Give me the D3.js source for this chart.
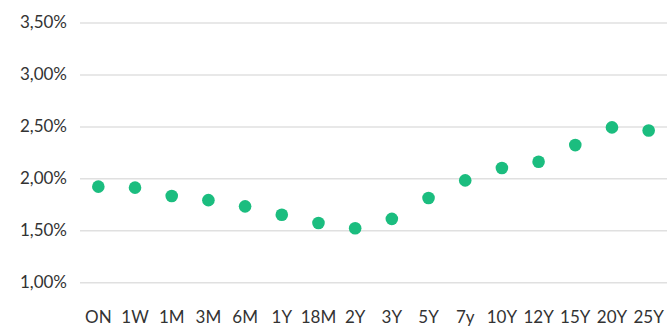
<!DOCTYPE html>
<html><head><meta charset="utf-8">
<script src="https://cdn.jsdelivr.net/npm/d3@7"></script>
<style>body{margin:0;background:#fff;}svg{display:block;}</style>
</head><body><div id="c"></div>
<script>
const categories = ["ON","1W","1M","3M","6M","1Y","18M","2Y","3Y","5Y","7y","10Y","12Y","15Y","20Y","25Y"];
const values = [1.92,1.91,1.83,1.79,1.73,1.65,1.57,1.52,1.61,1.81,1.98,2.10,2.16,2.32,2.49,2.46];
const yTicks = [1.0,1.5,2.0,2.5,3.0,3.5];

const W=667,H=327;
const svg=d3.select("#c").append("svg").attr("width",W).attr("height",H);
const x=d3.scaleBand().domain(categories).range([80,667]);
const y=d3.scaleLinear().domain([1.0,3.5]).range([282.2,22.5]);
const fmt=v=>v.toFixed(2).replace(".",",")+"%";

const ga=svg.append("g").attr("transform","translate(80,0)")
  .call(d3.axisLeft(y).tickValues(yTicks).tickSize(-587).tickFormat(fmt).tickPadding(13));
ga.select(".domain").remove();
ga.selectAll(".tick line").attr("stroke","#e0e0e0").attr("stroke-width",1.5);
ga.selectAll(".tick text").attr("fill","#333").style("font-family","Lato").style("font-size","17px");

const gx=svg.append("g").attr("transform","translate(0,323)")
  .call(d3.axisBottom(x).tickSize(0).tickPadding(0));
gx.select(".domain").remove();
gx.selectAll(".tick text").attr("dy",0).attr("fill","#333").style("font-family","Lato").style("font-size","17px");

svg.append("g").selectAll("circle").data(values).join("circle")
  .attr("cx",(d,i)=>x(categories[i])+x.bandwidth()/2)
  .attr("cy",d=>y(d)).attr("r",6.3).attr("fill","#1bbd7f");
</script></body></html>
